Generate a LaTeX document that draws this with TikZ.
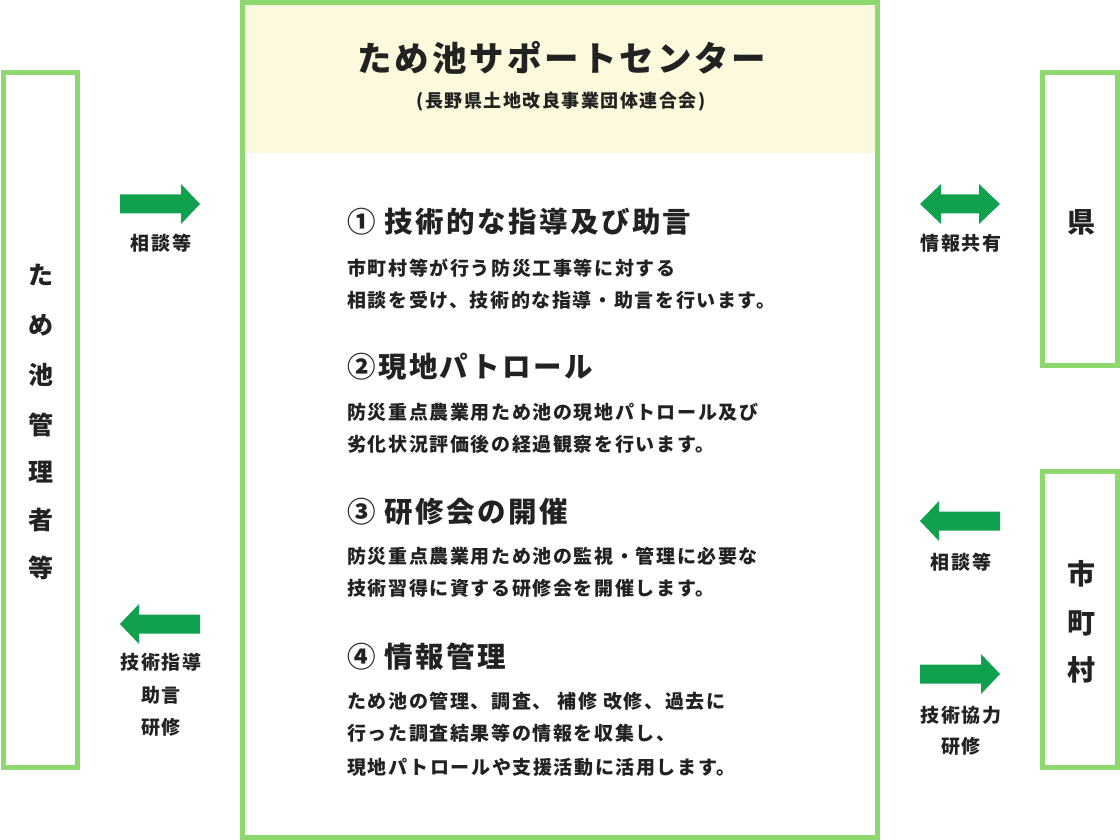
\documentclass[tikz,border=0pt]{standalone}
\usepackage{fontspec}
\setmainfont{Noto Sans CJK JP}[LetterSpace=8.5]
\definecolor{frameg}{HTML}{8FD870}
\definecolor{arrowg}{HTML}{10A04E}
\definecolor{cream}{HTML}{FDF9DC}
\definecolor{ink}{HTML}{222222}
\tikzset{
  frame/.style={draw=frameg, line width=5pt},
  txt/.style={inner sep=0pt, text=ink, font=\bfseries\fontsize{19}{21}\selectfont},
  body/.style={txt, anchor=west},
  head/.style={inner sep=0pt, text=ink, anchor=west, font=\bfseries\fontsize{28.5}{31}\selectfont},
  lbl/.style={txt},
  vert/.style={inner sep=0pt, text=ink, font=\bfseries\fontsize{25}{27}\selectfont},
  vertbig/.style={inner sep=0pt, text=ink, font=\bfseries\fontsize{28}{30}\selectfont},
  rarrow/.pic={\fill[arrowg] (-40,-9.5) -- (21,-9.5) -- (21,-20) -- (40,0) -- (21,20) -- (21,9.5) -- (-40,9.5) -- cycle;},
  darrow/.pic={\fill[arrowg] (-40,0) -- (-19,-20) -- (-19,-9.5) -- (19,-9.5) -- (19,-20) -- (40,0) -- (19,20) -- (19,9.5) -- (-19,9.5) -- (-19,20) -- cycle;}
}
\begin{document}
\begin{tikzpicture}[x=1pt,y=-1pt]
\useasboundingbox (0,0) rectangle (1120,840);
% center box
\fill[cream] (242.5,2.5) rectangle (877.5,153);
\draw[frame] (242.5,2.5) rectangle (877.5,837.5);
% side boxes
\draw[frame] (3,72.5) rectangle (77,767.5);
\draw[frame] (1042.5,72.5) rectangle (1117.5,365.5);
\draw[frame] (1042.5,471.5) rectangle (1117.5,767.5);

% title
\node[inner sep=0pt, text=ink, font=\bfseries\fontsize{34.5}{37}\selectfont] (title) at (562,58) {ため池サポートセンター};
\node[inner sep=0pt, text=ink, font=\bfseries\fontsize{18}{20}\selectfont] (sub) at (561,102) {(長野県土地改良事業団体連合会)};

% sections
\node[head] (h1) at (347,222) {① 技術的な指導及び助言};
\node[body] (b1a) at (347,268) {市町村等が行う防災工事等に対する};
\node[body] (b1b) at (347,300) {相談を受け、技術的な指導・助言を行います。};
\node[head] (h2) at (347,367) {②現地パトロール};
\node[body] (b2a) at (347,412) {防災重点農業用ため池の現地パトロール及び};
\node[body] (b2b) at (347,444) {劣化状況評価後の経過観察を行います。};
\node[head] (h3) at (347,512) {③ 研修会の開催};
\node[body] (b3a) at (347,556) {防災重点農業用ため池の監視・管理に必要な};
\node[body] (b3b) at (347,588) {技術習得に資する研修会を開催します。};
\node[head] (h4) at (347,657) {④ 情報管理};
\node[body] (b4a) at (347,701) {ため池の管理、調査、 補修 改修、過去に};
\node[body] (b4b) at (347,733) {行った調査結果等の情報を収集し、};
\node[body] (b4c) at (347,767) {現地パトロールや支援活動に活用します。};

% left vertical text
\node[vert] (l1) at (41,275) {た};
\node[vert] (l2) at (41,325) {め};
\node[vert] (l3) at (41,375) {池};
\node[vert] (l4) at (41,425) {管};
\node[vert] (l5) at (41,472) {理};
\node[vert] (l6) at (41,520) {者};
\node[vert] (l7) at (41,568) {等};

% right vertical text
\node[vertbig] (k1) at (1081,222) {県};
\node[vertbig] (m1) at (1081,574) {市};
\node[vertbig] (m2) at (1081,623) {町};
\node[vertbig] (m3) at (1081,670) {村};

% arrows
\pic at (160,204) {rarrow};
\pic[rotate=180] at (160,624) {rarrow};
\pic at (960,204) {darrow};
\pic[rotate=180] at (960,521) {rarrow};
\pic at (960,674) {rarrow};

% arrow labels
\node[lbl] (a1) at (161,243) {相談等};
\node[lbl] (a2) at (161,662) {技術指導};
\node[lbl] (a3) at (161,695) {助言};
\node[lbl] (a4) at (161,727) {研修};
\node[lbl] (a5) at (961,243) {情報共有};
\node[lbl] (a6) at (961,562) {相談等};
\node[lbl] (a7) at (961,715) {技術協力};
\node[lbl] (a8) at (961,746) {研修};
\end{tikzpicture}
\end{document}
